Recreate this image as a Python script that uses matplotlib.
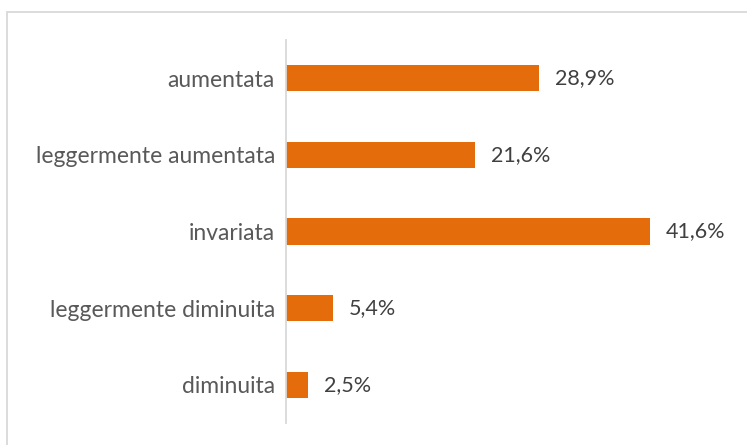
import matplotlib
matplotlib.use('Agg')
import matplotlib.pyplot as plt
from matplotlib.patches import Rectangle

# Data
categories = ['aumentata', 'leggermente aumentata', 'invariata',
              'leggermente diminuita', 'diminuita']
values = [28.9, 21.6, 41.6, 5.4, 2.5]
labels = ['28,9%', '21,6%', '41,6%', '5,4%', '2,5%']

W, H = 747, 445
plt.rcParams['font.family'] = ['Lato', 'DejaVu Sans']

fig = plt.figure(figsize=(W / 100, H / 100), dpi=100)
fig.patch.set_facecolor('white')

# chart border (light gray, cut off at right/bottom)
fig.patches.append(Rectangle((6.5 / W, -0.1), 1.2, 433.5 / H + 0.1,
                             transform=fig.transFigure, fill=False,
                             edgecolor='#D9D9D9', linewidth=1.3))

ax = fig.add_axes([286 / W, 22 / H, 437.5 / W, 383 / H])
ypos = list(range(len(categories)))
ax.barh(ypos, values, height=0.34, color='#E46C0A')

for y, v, lab in zip(ypos, values, labels):
    ax.text(v + 1.8, y, lab, va='center', ha='left', fontsize=15.5, color='#404040')

ax.set_xlim(0, 50)
ax.set_ylim(4.5, -0.5)
ax.set_yticks(ypos)
ax.set_yticklabels(categories, fontsize=16.5, color='#595959')
ax.tick_params(axis='y', length=0, pad=8)
ax.set_xticks([])
for s in ['top', 'right', 'bottom']:
    ax.spines[s].set_visible(False)
ax.spines['left'].set_color('#D9D9D9')
ax.spines['left'].set_linewidth(1.3)

fig.savefig('out.png', dpi=100)
